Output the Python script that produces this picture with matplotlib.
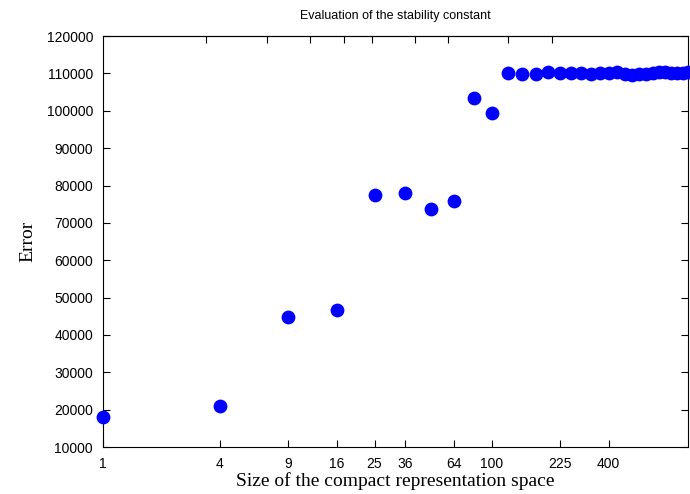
import matplotlib
matplotlib.use("Agg")
from matplotlib import pyplot as plt
from matplotlib.ticker import FixedLocator, NullLocator

# ------------- Data ---------------

sizes = [1, 4, 9, 16, 25, 36, 49, 64, 81, 100,
         121, 144, 169, 196, 225, 256, 289, 324, 361, 400,
         441, 484, 529, 576, 625, 676, 729, 784, 841, 900, 961, 1024]
errors = [18000, 21000, 44800, 46700, 77500, 78000, 73700, 75900, 103400, 99500,
          110100, 109900, 109800, 110300, 110200, 110100, 110000, 109900, 110000, 110200,
          110300, 109900, 109600, 109800, 109900, 110100, 110300, 110400, 110100, 110000, 110200, 110400]

xticks = [1, 4, 9, 16, 25, 36, 64, 100, 225, 400]
# the mirrored top axis in the source carries its own (unlabelled) tick set
top_ticks = [3.4, 7, 11.6, 17.4, 24.2, 40.3, 59.6, 122, 205]

# ------------- Display ---------------

fig = plt.figure(figsize=(6.9, 4.94), dpi=100)
ax = fig.add_axes([0.149, 0.095, 0.848, 0.832])

ax.scatter(sizes, errors, s=80, color='#0000ff', zorder=3, clip_on=False)

ax.set_xscale('log')
ax.set_xlim(1, 1024)
ax.set_ylim(10000, 120000)
ax.xaxis.set_major_locator(FixedLocator(xticks))
ax.xaxis.set_minor_locator(NullLocator())
ax.set_xticklabels([str(t) for t in xticks])
ax.set_yticks(range(10000, 120001, 10000))

ax.tick_params(direction='in', right=True, length=5, width=0.8,
               labelsize=10, pad=7)
for lab in ax.get_xticklabels() + ax.get_yticklabels():
    lab.set_family('Liberation Sans')

top = ax.secondary_xaxis('top')
top.set_xticks(top_ticks)
top.xaxis.set_minor_locator(NullLocator())
top.tick_params(direction='in', length=5, width=0.8, labeltop=False)

ax.set_title("Evaluation of the stability constant", fontsize=9,
             family='Liberation Sans', pad=12)
ax.set_xlabel("Size of the compact representation space", fontsize=14,
              family='Liberation Serif', labelpad=1)
ax.set_ylabel("Error", fontsize=14, family='Liberation Serif', labelpad=7)

plt.savefig("out.png", dpi=100)
